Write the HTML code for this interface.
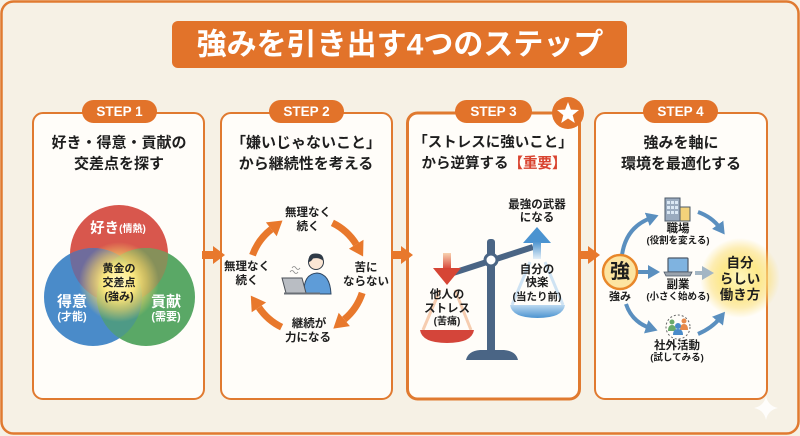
<!DOCTYPE html>
<html><head><meta charset="utf-8">
<style>
html,body{margin:0;padding:0;background:#f6f1e5;}
svg{display:block;}
text{font-family:"Liberation Sans","Noto Sans CJK JP",sans-serif;font-weight:bold;}
</style></head>
<body>
<svg width="800" height="436" viewBox="0 0 800 436" xmlns="http://www.w3.org/2000/svg">
<defs>
  <radialGradient id="glow1" cx="0.5" cy="0.5" r="0.5">
    <stop offset="0" stop-color="#fff9c8"/>
    <stop offset="0.4" stop-color="#fbe77e"/>
    <stop offset="0.7" stop-color="#f3d466" stop-opacity="0.6"/>
    <stop offset="1" stop-color="#f3d466" stop-opacity="0"/>
  </radialGradient>
  <radialGradient id="glow2" cx="0.5" cy="0.5" r="0.5">
    <stop offset="0" stop-color="#fff6c0"/>
    <stop offset="0.45" stop-color="#fde98a"/>
    <stop offset="0.75" stop-color="#fbe07a" stop-opacity="0.55"/>
    <stop offset="1" stop-color="#fbe07a" stop-opacity="0"/>
  </radialGradient>
  <linearGradient id="redShaft" x1="0" y1="0" x2="0" y2="1">
    <stop offset="0" stop-color="#f8d2b0"/>
    <stop offset="1" stop-color="#d8473a"/>
  </linearGradient>
  <linearGradient id="blueShaft" x1="0" y1="0" x2="0" y2="1">
    <stop offset="0" stop-color="#4f95d0"/>
    <stop offset="1" stop-color="#e4eff8"/>
  </linearGradient>
  <linearGradient id="blueBowl" x1="0" y1="0" x2="0" y2="1">
    <stop offset="0" stop-color="#bcd9f0"/>
    <stop offset="1" stop-color="#4b93d0"/>
  </linearGradient>
  <clipPath id="cb"><circle cx="93" cy="297" r="49"/></clipPath>
  <clipPath id="cg"><circle cx="146" cy="297" r="49"/></clipPath>
  <marker id="bh" markerUnits="userSpaceOnUse" markerWidth="14" markerHeight="14" refX="4" refY="7" orient="auto">
    <path d="M0,0 L12,7 L0,14 Z" fill="#5a8fbf"/>
  </marker>
  <marker id="gh" markerUnits="userSpaceOnUse" markerWidth="14" markerHeight="14" refX="4" refY="7" orient="auto">
    <path d="M0,0 L12,7 L0,14 Z" fill="#a3b6c4"/>
  </marker>
</defs>

<!-- outer frame -->
<rect x="1.5" y="1.5" width="797" height="432" rx="12" fill="#f6f1e5" stroke="#e07a30" stroke-width="2.5"/>

<!-- title -->
<rect x="172" y="21" width="455" height="47" rx="6" fill="#e2732a"/>
<text x="400" y="45" font-size="30" fill="#fff" text-anchor="middle" dominant-baseline="central">強みを引き出す4つのステップ</text>

<!-- panels -->
<rect x="33" y="113" width="171" height="286" rx="10" fill="#fffdf9" stroke="#e07a30" stroke-width="2"/>
<rect x="221" y="113" width="171" height="286" rx="10" fill="#fffdf9" stroke="#e07a30" stroke-width="2"/>
<rect x="407.5" y="113" width="172" height="286" rx="10" fill="#fffdf9" stroke="#e07a30" stroke-width="3"/>
<rect x="595" y="113" width="172" height="286" rx="10" fill="#fffdf9" stroke="#e07a30" stroke-width="2"/>

<!-- pills -->
<rect x="82" y="100" width="75" height="23" rx="11.5" fill="#e2732a"/>
<text x="119.5" y="111.5" font-size="13.5" fill="#fff" text-anchor="middle" dominant-baseline="central">STEP 1</text>
<rect x="269" y="100" width="75" height="23" rx="11.5" fill="#e2732a"/>
<text x="306.5" y="111.5" font-size="13.5" fill="#fff" text-anchor="middle" dominant-baseline="central">STEP 2</text>
<rect x="455" y="100" width="77" height="23" rx="11.5" fill="#e2732a"/>
<text x="493.5" y="111.5" font-size="13.5" fill="#fff" text-anchor="middle" dominant-baseline="central">STEP 3</text>
<rect x="643" y="100" width="75" height="23" rx="11.5" fill="#e2732a"/>
<text x="680.5" y="111.5" font-size="13.5" fill="#fff" text-anchor="middle" dominant-baseline="central">STEP 4</text>

<!-- star badge -->
<circle cx="568" cy="113" r="16" fill="#e2732a"/>
<path d="M568,102 L570.9,109.6 L579,110 L572.7,115.1 L574.8,123 L568,118.5 L561.2,123 L563.3,115.1 L557,110 L565.1,109.6 Z" fill="#fff"/>

<!-- panel headings -->
<g font-size="15" fill="#1e1e1e" text-anchor="middle" dominant-baseline="central">
  <text x="119" y="143">好き・得意・貢献の</text>
  <text x="119" y="164">交差点を探す</text>
  <text x="306" y="143">「嫌いじゃないこと」</text>
  <text x="306" y="164">から継続性を考える</text>
  <text x="493" y="143" font-size="14.5">「ストレスに強いこと」</text>
  <text x="494" y="164" font-size="14.5">から逆算する<tspan fill="#d9432f">【重要】</tspan></text>
  <text x="681" y="143">強みを軸に</text>
  <text x="681" y="164">環境を最適化する</text>
</g>

<!-- inter-panel arrows -->
<path d="M202,251 L213,251 L213,246 L225,255 L213,264 L213,259 L202,259 Z" fill="#e8782c"/>
<path d="M391,251 L401,251 L401,246 L413,255 L401,264 L401,259 L391,259 Z" fill="#e8782c"/>
<path d="M579,251 L588,251 L588,246 L600,255 L588,264 L588,259 L579,259 Z" fill="#e8782c"/>

<!-- ===== Panel 1 Venn ===== -->
<circle cx="119" cy="254" r="49" fill="#d8574d"/>
<circle cx="93" cy="297" r="49" fill="#4a8bc9"/>
<circle cx="146" cy="297" r="49" fill="#5aa866"/>
<circle cx="119" cy="254" r="49" fill="#6f6c9c" clip-path="url(#cb)"/>
<circle cx="119" cy="254" r="49" fill="#86905a" clip-path="url(#cg)"/>
<circle cx="146" cy="297" r="49" fill="#4e9a86" clip-path="url(#cb)"/>
<circle cx="119" cy="282" r="40" fill="url(#glow1)"/>
<text x="118" y="229" fill="#fff" text-anchor="middle" dominant-baseline="central"><tspan font-size="14.5">好き</tspan><tspan font-size="10">(情熱)</tspan></text>
<text x="72" y="302" font-size="15" fill="#fff" text-anchor="middle" dominant-baseline="central">得意</text>
<text x="72" y="317" font-size="11" fill="#fff" text-anchor="middle" dominant-baseline="central">(才能)</text>
<text x="166" y="302" font-size="15" fill="#fff" text-anchor="middle" dominant-baseline="central">貢献</text>
<text x="166" y="317" font-size="11" fill="#fff" text-anchor="middle" dominant-baseline="central">(需要)</text>
<g font-size="11" fill="#1e1e1e" text-anchor="middle" dominant-baseline="central">
  <text x="119" y="269">黄金の</text>
  <text x="119" y="283">交差点</text>
  <text x="119" y="297">(強み)</text>
</g>

<!-- ===== Panel 2 cycle ===== -->
<g fill="none" stroke="#e8782c" stroke-width="7">
  <path d="M332.4,222.9 A58,58 0 0 1 356.2,244.3"/>
  <path d="M362.2,292.9 A58,58 0 0 1 344.3,319.4"/>
  <path d="M281.6,327.1 A58,58 0 0 1 258.9,307.4"/>
  <path d="M252.5,255.2 A58,58 0 0 1 271.3,229.3"/>
</g>
<g fill="#e8782c">
  <path d="M363.5,239.8 L348.9,248.8 L363.1,256.5 Z"/>
  <path d="M349.9,326.1 L338.7,312.7 L333.3,328.6 Z"/>
  <path d="M251.7,312.3 L266.1,302.5 L250.8,295.6 Z"/>
  <path d="M265.9,222.4 L276.7,236.2 L282.5,220.5 Z"/>
</g>
<g font-size="11.5" fill="#1e1e1e" text-anchor="middle" dominant-baseline="central">
  <text x="308" y="213">無理なく</text>
  <text x="308" y="227">続く</text>
  <text x="366" y="268">苦に</text>
  <text x="366" y="282">ならない</text>
  <text x="309" y="324">継続が</text>
  <text x="308" y="338">力になる</text>
  <text x="247" y="267">無理なく</text>
  <text x="247" y="281">続く</text>
</g>
<!-- person -->
<path d="M304,294 Q303,274 317,273 Q330,274 331,294 Z" fill="#5e9cd8" stroke="#2f4660" stroke-width="1"/>
<circle cx="316" cy="262" r="7.5" fill="#fbe6d4" stroke="#2f3a46" stroke-width="1"/>
<path d="M308.5,262 Q308,253 316,253.5 Q324,253.5 323.5,261 Q319,257 313,258.5 Q311,262 308.5,262 Z" fill="#2f3a46"/>
<path d="M282,278 L302,278 L306,293 L286,293 Z" fill="#b9bdc3" stroke="#4a4f56" stroke-width="1"/>
<path d="M284,293.5 L320,293.5" stroke="#6a6f76" stroke-width="2"/>
<path d="M290,272 q2,-3 4,0 q2,3 4,0 M292,268 q2,-3 4,0 q2,3 4,0" fill="none" stroke="#888" stroke-width="0.8"/>

<!-- ===== Panel 3 scale ===== -->
<!-- cones -->
<g stroke="#f6cdb0" stroke-width="3" fill="none">
  <path d="M440,290 L423,330"/>
  <path d="M455,290 L471,330"/>
</g>
<g stroke="#cfe3f3" stroke-width="3" fill="none">
  <path d="M530,262 L512,305"/>
  <path d="M545,262 L563,305"/>
</g>
<path d="M466,360 Q468,351 480,350 L504,350 Q516,351 518,360 Z" fill="#4a6585"/>
<rect x="487" y="239" width="8" height="114" rx="3" fill="#4a6585"/>
<line x1="453" y1="273" x2="533" y2="247" stroke="#4a6585" stroke-width="6"/>
<circle cx="491" cy="260" r="6" fill="#fff" stroke="#4a6585" stroke-width="3"/>
<!-- red arrow -->
<rect x="443" y="253" width="8" height="16" fill="url(#redShaft)"/>
<path d="M433,268 L461,268 L447,285 Z" fill="#d64535"/>
<!-- red bowl -->
<path d="M420,330 L474,330 Q472,343 447,343 Q422,343 420,330 Z" fill="#d4453a"/>
<!-- blue arrow -->
<path d="M537,227 L551,243 L523,243 Z" fill="#4b93d0"/>
<rect x="533" y="242" width="8" height="17" fill="url(#blueShaft)"/>
<!-- blue bowl -->
<path d="M510,305 L565,305 Q563,318 537.5,318 Q512,318 510,305 Z" fill="url(#blueBowl)"/>
<g font-size="11.5" fill="#1e1e1e" text-anchor="middle" dominant-baseline="central">
  <text x="537" y="205">最強の武器</text>
  <text x="537" y="218">になる</text>
  <text x="447" y="295">他人の</text>
  <text x="447" y="309">ストレス</text>
  <text x="447" y="322" font-size="10">(苦痛)</text>
  <text x="537" y="270">自分の</text>
  <text x="537" y="283">快楽</text>
  <text x="537" y="297" font-size="10.5">(当たり前)</text>
</g>

<!-- ===== Panel 4 ===== -->
<circle cx="740" cy="278" r="40" fill="url(#glow2)"/>
<g fill="none" stroke="#5a8fbf" stroke-width="4">
  <path d="M622,255 Q626,227 651,218" marker-end="url(#bh)"/>
  <path d="M638,272 L652,272" marker-end="url(#bh)"/>
  <path d="M626,304 Q632,322 650,328" marker-end="url(#bh)"/>
  <path d="M698,212 Q712,217 720,228" marker-end="url(#bh)"/>
  <path d="M698,334 Q712,328 720,318" marker-end="url(#bh)"/>
</g>
<path d="M695,273 L706,273" stroke="#a3b6c4" stroke-width="4" marker-end="url(#gh)"/>
<circle cx="620" cy="272" r="17" fill="#fde4a0" stroke="#e8872a" stroke-width="2.5"/>
<text x="620" y="272" font-size="20" fill="#1e1e1e" text-anchor="middle" dominant-baseline="central">強</text>
<text x="620" y="297" font-size="11" fill="#1e1e1e" text-anchor="middle" dominant-baseline="central">強み</text>
<!-- building -->
<rect x="665" y="198" width="15" height="23" fill="#9aabbf" stroke="#4e5a68" stroke-width="1"/>
<g fill="#dbe8f4">
  <rect x="667" y="201" width="3" height="3"/><rect x="671" y="201" width="3" height="3"/><rect x="675" y="201" width="3" height="3"/>
  <rect x="667" y="206" width="3" height="3"/><rect x="671" y="206" width="3" height="3"/><rect x="675" y="206" width="3" height="3"/>
  <rect x="667" y="211" width="3" height="3"/><rect x="671" y="211" width="3" height="3"/><rect x="675" y="211" width="3" height="3"/>
</g>
<rect x="680" y="207" width="10" height="14" fill="#f3d27a" stroke="#4e5a68" stroke-width="1"/>
<!-- laptop -->
<rect x="668" y="258" width="20" height="14" rx="1" fill="#7fb3e0" stroke="#4e5a68" stroke-width="1.2"/>
<path d="M664,272 L692,272 L690,276 L666,276 Z" fill="#9aa3ad" stroke="#4e5a68" stroke-width="0.8"/>
<!-- people -->
<circle cx="678" cy="327" r="12" fill="none" stroke="#666" stroke-width="1" stroke-dasharray="2 2"/>
<circle cx="672" cy="322" r="2.5" fill="#6aaa6a"/><path d="M668,331 Q668,325 672,325 Q676,325 676,331 Z" fill="#6aaa6a"/>
<circle cx="684" cy="321" r="2.5" fill="#e88a4a"/><path d="M680,330 Q680,324 684,324 Q688,324 688,330 Z" fill="#e88a4a"/>
<circle cx="678" cy="326" r="3" fill="#4a8bc9"/><path d="M673,335 Q673,329 678,329 Q683,329 683,335 Z" fill="#4a8bc9"/>
<g fill="#1e1e1e" text-anchor="middle" dominant-baseline="central">
  <text x="678" y="229" font-size="11.5">職場</text>
  <text x="678" y="241" font-size="9.5">(役割を変える)</text>
  <text x="678" y="285" font-size="11.5">副業</text>
  <text x="678" y="297" font-size="9.5">(小さく始める)</text>
  <text x="677" y="346" font-size="11.5">社外活動</text>
  <text x="677" y="358" font-size="9.5">(試してみる)</text>
  <text x="740" y="263" font-size="13.5">自分</text>
  <text x="740" y="279" font-size="13.5">らしい</text>
  <text x="740" y="295" font-size="13.5">働き方</text>
</g>

<!-- sparkle -->
<path d="M766,396 Q768,406 778,408 Q768,410 766,420 Q764,410 754,408 Q764,406 766,396 Z" fill="#ffffff" opacity="0.85"/>
</svg>
</body></html>
